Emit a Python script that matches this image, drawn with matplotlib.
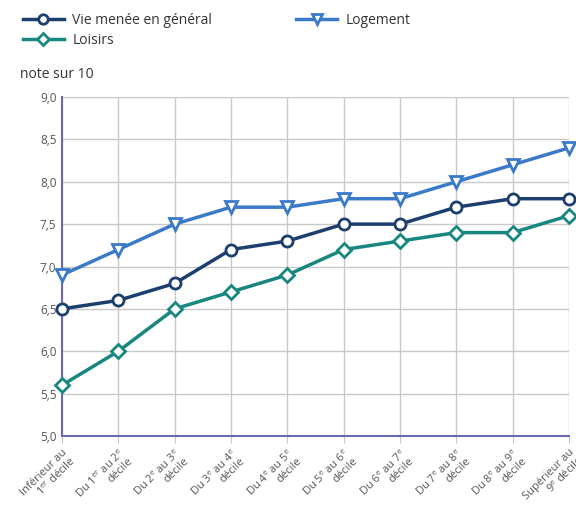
import matplotlib
matplotlib.use("Agg")
import matplotlib.pyplot as plt
from matplotlib.ticker import FuncFormatter, MultipleLocator

plt.rcParams['font.family'] = ['Open Sans', 'DejaVu Sans']
plt.rcParams['mathtext.fontset'] = 'custom'
plt.rcParams['mathtext.rm'] = 'Open Sans'
plt.rcParams['mathtext.it'] = 'Open Sans'

categories = [
    "Inférieur au\n1$^{er}$ décile",
    "Du 1$^{er}$ au 2$^{e}$\ndécile",
    "Du 2$^{e}$ au 3$^{e}$\ndécile",
    "Du 3$^{e}$ au 4$^{e}$\ndécile",
    "Du 4$^{e}$ au 5$^{e}$\ndécile",
    "Du 5$^{e}$ au 6$^{e}$\ndécile",
    "Du 6$^{e}$ au 7$^{e}$\ndécile",
    "Du 7$^{e}$ au 8$^{e}$\ndécile",
    "Du 8$^{e}$ au 9$^{e}$\ndécile",
    "Supérieur au\n9$^{e}$ décile",
]
vie = [6.5, 6.6, 6.8, 7.2, 7.3, 7.5, 7.5, 7.7, 7.8, 7.8]
logement = [6.9, 7.2, 7.5, 7.7, 7.7, 7.8, 7.8, 8.0, 8.2, 8.4]
loisirs = [5.6, 6.0, 6.5, 6.7, 6.9, 7.2, 7.3, 7.4, 7.4, 7.6]

c_vie = "#1c3f6e"
c_log = "#3b79c9"
c_loi = "#17877f"

fig = plt.figure(figsize=(5.76, 5.15), dpi=100)
ax = fig.add_axes([62/576, 1-436/515, (569-62)/576, (436-97)/515])

x = list(range(len(categories)))
l1, = ax.plot(x, vie, color=c_vie, lw=2.5, marker='o', ms=8, mfc='white', mec=c_vie, mew=2, clip_on=False, zorder=4, label="Vie menée en général")
l2, = ax.plot(x, logement, color=c_log, lw=2.5, marker='v', ms=9, mfc='white', mec=c_log, mew=2, clip_on=False, zorder=4, label="Logement")
l3, = ax.plot(x, loisirs, color=c_loi, lw=2.5, marker='D', ms=7, mfc='white', mec=c_loi, mew=2, clip_on=False, zorder=4, label="Loisirs")

ax.set_xlim(0, 9)
ax.set_ylim(5.0, 9.0)
ax.yaxis.set_major_locator(MultipleLocator(0.5))
ax.yaxis.set_major_formatter(FuncFormatter(lambda v, p: f"{v:.1f}".replace('.', ',')))
ax.set_xticks(x)
ax.set_xticklabels(categories, rotation=45, ha='right', rotation_mode='anchor', fontsize=8, color='#555555', linespacing=1.0)
ax.tick_params(axis='x', length=5, color='#c8c8c8', pad=3)
ax.tick_params(axis='y', length=0, labelsize=8.5, labelcolor='#555555', pad=4)
ax.grid(True, color='#c8c8c8', lw=1)
ax.set_axisbelow(True)
for s in ['top', 'right']:
    ax.spines[s].set_visible(False)
ax.spines['left'].set_color('#6b6bb0')
ax.spines['bottom'].set_color('#6b6bb0')
ax.spines['left'].set_linewidth(1.5)
ax.spines['bottom'].set_linewidth(1.5)

fig.text(20/576, 1-74/515, "note sur 10", fontsize=10, color='#333333', va='center')

fig.legend(handles=[l1, l3, l2], ncol=2, loc='upper left', bbox_to_anchor=(10/576, 1.0),
           frameon=False, fontsize=10, handlelength=3, columnspacing=6.0, labelspacing=0.4,
           handletextpad=0.6, labelcolor='#333333', markerscale=0.85)

fig.savefig("out.png", dpi=100)
